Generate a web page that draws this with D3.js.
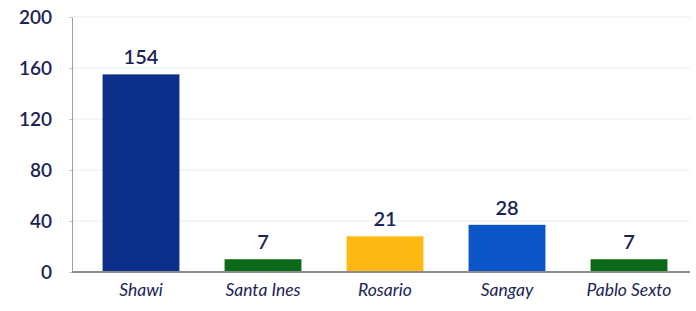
<!DOCTYPE html>
<html>
<head>
<style>
  body { margin: 0; background: #fff; }
  text { font-family: Lato, "Open Sans", sans-serif; fill: #1b2454; }
  .grid line { stroke: #ececec; stroke-width: 1; }
  .yaxis path { stroke: #a0a0a0; }
  .yaxis line { stroke: #c8c8c8; }
  .yaxis text { font-size: 19px; font-weight: 600; }
  .xaxis text { font-size: 17.5px; font-style: italic; }
  .val { font-size: 20px; font-weight: 600; text-anchor: middle; }
</style>
</head>
<body>
<svg width="696" height="311"></svg>
<script src="https://d3js.org/d3.v7.min.js"></script>
<script>
var categories = ["Shawi", "Santa Ines", "Rosario", "Sangay", "Pablo Sexto"];
// bar heights as drawn (they do not match the printed labels)
var heights = [155, 10, 28, 37, 10];
var labels = ["154", "7", "21", "28", "7"];
var colors = ["#0c2f8c", "#0b6a17", "#fdb913", "#0b55c8", "#0b6a17"];
var yTicks = [0, 40, 80, 120, 160, 200];

var svg = d3.select("svg");

var x = d3.scaleBand().domain(categories).range([80, 690]).paddingInner(0.37).paddingOuter(0.185);
var y = d3.scaleLinear().domain([0, 200]).range([272, 17]);

// grid
svg.append("g").attr("class", "grid")
  .selectAll("line").data(yTicks.slice(1)).enter().append("line")
  .attr("x1", 72).attr("x2", 690)
  .attr("y1", function(d) { return y(d); })
  .attr("y2", function(d) { return y(d); });

// y axis
var yAxis = svg.append("g").attr("class", "yaxis")
  .attr("transform", "translate(72,0)")
  .call(d3.axisLeft(y).tickValues(yTicks).tickSize(3).tickSizeOuter(0).tickPadding(17));
yAxis.select(".domain").attr("stroke-width", 1);

// bars
svg.selectAll("rect.bar").data(categories).enter().append("rect")
  .attr("class", "bar")
  .attr("x", function(d) { return x(d); })
  .attr("width", x.bandwidth())
  .attr("y", function(d, i) { return y(heights[i]); })
  .attr("height", function(d, i) { return y(0) - y(heights[i]); })
  .attr("fill", function(d, i) { return colors[i]; });

// value labels
svg.selectAll("text.val").data(categories).enter().append("text")
  .attr("class", "val")
  .attr("x", function(d) { return x(d) + x.bandwidth() / 2; })
  .attr("y", function(d, i) { return y(heights[i]) - 10; })
  .text(function(d, i) { return labels[i]; });

// x axis
var xAxis = svg.append("g").attr("class", "xaxis")
  .attr("transform", "translate(0,272)")
  .call(d3.axisBottom(x).tickSize(0).tickPadding(12));
xAxis.select(".domain").attr("stroke", "#8c8c8c").attr("stroke-width", 2)
  .attr("d", "M72,0H690");
</script>
</body>
</html>
